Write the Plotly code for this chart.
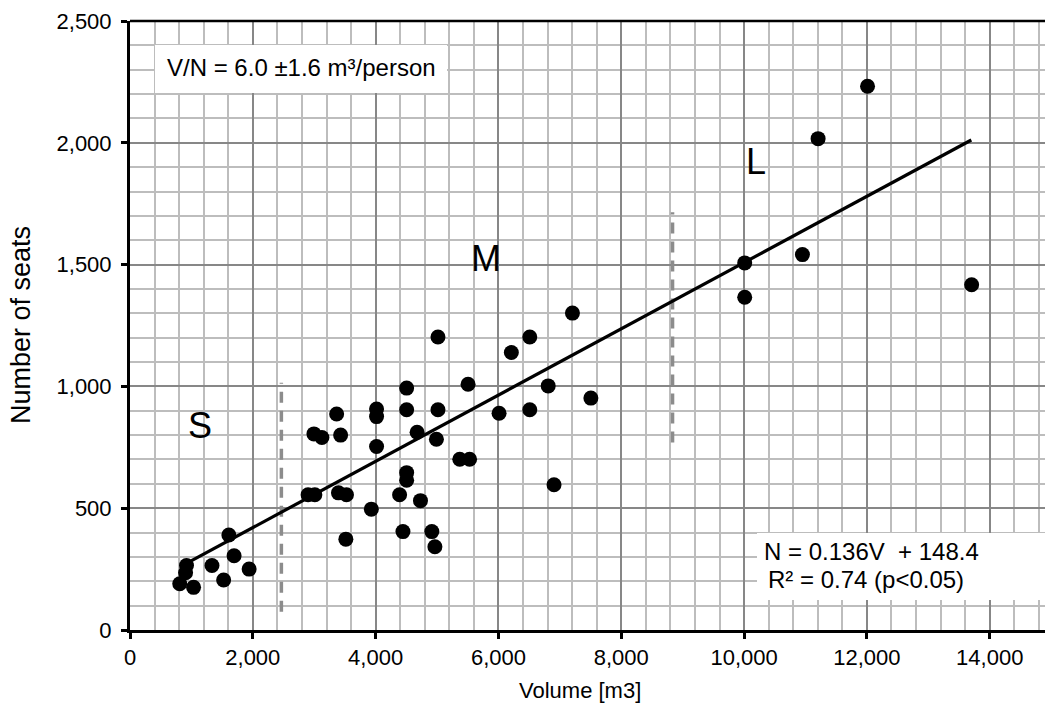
import plotly.graph_objects as go

# Hall volume [m3] and number of seats
volume = [810, 905, 920, 1035, 1335, 1525, 1610, 1695, 1940,
          2900, 3010, 2995, 3125, 3365, 3395, 3430, 3525, 3515, 3930,
          4015, 4015, 4015, 4390, 4445, 4505, 4505, 4505, 4505, 4675,
          4730, 4915, 4965, 4990, 5015, 5015, 5370, 5530, 5505, 6010,
          6210, 6510, 6510, 6810, 6905, 7205, 7505,
          10010, 10010, 10950, 11205, 12010, 13705]
seats = [190, 235, 265, 175, 265, 205, 390, 305, 250,
         555, 555, 805, 790, 887, 563, 800, 555, 373, 496,
         907, 876, 753, 555, 404, 993, 904, 646, 615, 812,
         531, 404, 342, 783, 1203, 904, 701, 701, 1009, 890,
         1139, 1203, 904, 1002, 596, 1301, 952,
         1507, 1366, 1541, 2017, 2232, 1417]

# Linear fit N = a*V + b and its plotted extent
fit_slope = 0.136
fit_intercept = 148.4
fit_volume = [950, 13700]
fit_seats = [fit_slope * v + fit_intercept for v in fit_volume]

# Size-class boundaries (dashed) and class labels
bound_volume = [2465, 8835]
bound_low = [75, 770]
bound_high = [1015, 1715]
class_names = ["S", "M", "L"]
class_volume = [1140, 5800, 10195]
class_seats = [840, 1527, 1925]

FONT = "Arial, Liberation Sans, sans-serif"
W, H = 1045, 704
L_M, R_M, T_M, B_M = 130, 0, 21, 74
PW, PH = W - L_M - R_M, H - T_M - B_M


def px(x):
    return (x - L_M) / PW


def py(y):
    return (H - B_M - y) / PH


fig = go.Figure()

for xb, lo, hi in zip(bound_volume, bound_low, bound_high):
    fig.add_trace(go.Scatter(
        x=[xb, xb], y=[lo, hi], mode="lines",
        line=dict(color="#8c8c8c", width=3.5, dash="11px,8px"),
        hoverinfo="skip", showlegend=False))

fig.add_trace(go.Scatter(
    x=volume, y=seats, mode="markers",
    marker=dict(color="black", size=15, line=dict(width=0)),
    showlegend=False))

fig.add_trace(go.Scatter(
    x=fit_volume, y=fit_seats, mode="lines",
    line=dict(color="black", width=3.2),
    hoverinfo="skip", showlegend=False))

axis_common = dict(
    showline=True, linecolor="black", linewidth=3,
    ticks="outside", ticklen=6, tickwidth=3, tickcolor="black",
    tickfont=dict(family=FONT, size=22, color="black"),
    showgrid=True, gridcolor="#878787", gridwidth=2,
    zeroline=False, tickformat=",",
)

fig.update_xaxes(range=[0, 14900], dtick=2000, tick0=0,
                 minor=dict(dtick=400, showgrid=True, gridcolor="#bdbdbd", gridwidth=2),
                 ticklabelstandoff=0, **axis_common)
fig.update_yaxes(range=[0, 2500], dtick=500, tick0=0,
                 minor=dict(dtick=100, showgrid=True, gridcolor="#bdbdbd", gridwidth=2),
                 ticklabelstandoff=5, **axis_common)

shapes = [
    # top frame
    dict(type="line", xref="paper", yref="paper", x0=0, x1=1, y0=1, y1=1,
         line=dict(color="black", width=2.5)),
    # white panels behind the text
    dict(type="rect", xref="paper", yref="paper",
         x0=px(155), x1=px(447), y0=py(93), y1=py(45),
         fillcolor="white", line=dict(width=0), layer="above"),
    dict(type="rect", xref="paper", yref="paper",
         x0=px(757), x1=1, y0=py(600), y1=py(533),
         fillcolor="white", line=dict(width=0), layer="above"),
]

annotations = [
    dict(text="V/N = 6.0 \u00b11.6 m\u00b3/person", xref="paper", yref="paper",
         x=px(165), y=py(67), xanchor="left", yanchor="middle", showarrow=False,
         font=dict(family=FONT, size=24, color="black")),
    dict(text="N = 0.136V  + 148.4", xref="paper", yref="paper",
         x=px(762), y=py(551), xanchor="left", yanchor="middle", showarrow=False,
         font=dict(family=FONT, size=24, color="black")),
    dict(text="R\u00b2 = 0.74 (p<0.05)", xref="paper", yref="paper",
         x=px(766), y=py(579), xanchor="left", yanchor="middle", showarrow=False,
         font=dict(family=FONT, size=24, color="black")),
    dict(text="Volume [m3]", xref="paper", yref="paper",
         x=px(580), y=py(690), xanchor="center", yanchor="middle", showarrow=False,
         font=dict(family=FONT, size=22, color="black")),
    dict(text="Number of seats", xref="paper", yref="paper", textangle=-90,
         x=px(21), y=py(325), xanchor="center", yanchor="middle", showarrow=False,
         font=dict(family=FONT, size=27, color="black")),
]
for name, xv, yv in zip(class_names, class_volume, class_seats):
    annotations.append(dict(text=name, x=xv, y=yv, xref="x", yref="y",
                            xanchor="center", yanchor="middle", showarrow=False,
                            font=dict(family=FONT, size=36, color="black")))

fig.update_layout(
    width=W, height=H,
    margin=dict(l=L_M, r=R_M, t=T_M, b=B_M),
    paper_bgcolor="white", plot_bgcolor="white",
    shapes=shapes, annotations=annotations,
    showlegend=False,
)

fig.write_html("out.html")
